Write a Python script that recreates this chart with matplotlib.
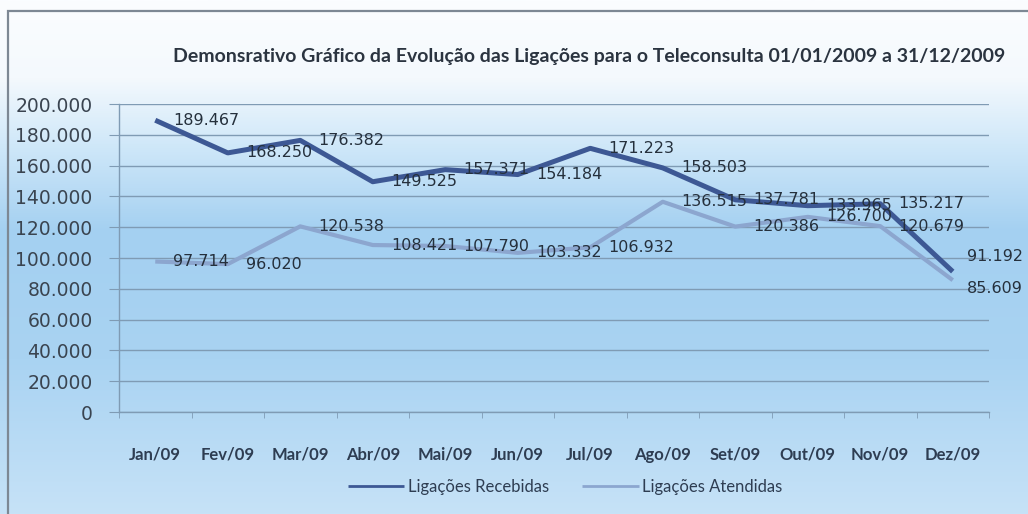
import numpy as np
import matplotlib
matplotlib.use('Agg')
import matplotlib.pyplot as plt
from matplotlib.patches import Rectangle
from matplotlib.colors import LinearSegmentedColormap

meses = ['Jan/09', 'Fev/09', 'Mar/09', 'Abr/09', 'Mai/09', 'Jun/09',
         'Jul/09', 'Ago/09', 'Set/09', 'Out/09', 'Nov/09', 'Dez/09']
recebidas = [189467, 168250, 176382, 149525, 157371, 154184,
             171223, 158503, 137781, 133965, 135217, 91192]
atendidas = [97714, 96020, 120538, 108421, 107790, 103332,
             106932, 136515, 120386, 126700, 120679, 85609]
yticks = [0, 20000, 40000, 60000, 80000, 100000, 120000, 140000, 160000, 180000, 200000]

titulo = 'Demonsrativo Gráfico da Evolução das Ligações para o Teleconsulta 01/01/2009 a 31/12/2009'

def fmt(v):
    return '{:,}'.format(v).replace(',', '.')

fig = plt.figure(figsize=(10.28, 5.14), dpi=100)

# background gradient (white on top, blue in the middle, lighter at the bottom)
bg = fig.add_axes([0, 0, 1, 1], zorder=-10)
cmap = LinearSegmentedColormap.from_list('bg', [
    (0.0, '#c6e2f7'), (0.3, '#a9d3f2'), (0.55, '#a4d0f1'),
    (0.72, '#d0e8f9'), (0.85, '#f4f9fd'), (1.0, '#fbfdff')])
grad = np.linspace(0, 1, 256).reshape(-1, 1)
bg.imshow(grad, aspect='auto', cmap=cmap, origin='lower', extent=[0, 1, 0, 1])
bg.set_xlim(0, 1)
bg.set_ylim(0, 1)
bg.axis('off')
bg.add_patch(Rectangle((8/1028, -0.01), 1.02 - 8/1028, 1 - 11/514 + 0.01,
                       fill=False, ec='#7d8894', lw=1.6))

ax = fig.add_axes([119/1028, 1 - 412/514, 870/1028, 308/514])
ax.patch.set_alpha(0)
x = np.arange(len(meses))

ax.plot(x, atendidas, color='#8ca6cf', lw=3.0, solid_capstyle='butt', label='Ligações Atendidas', zorder=3)
ax.plot(x, recebidas, color='#3d5894', lw=3.6, solid_capstyle='butt', label='Ligações Recebidas', zorder=4)

lab = dict(fontsize=11.5, color='#25303c', ha='left', va='center', zorder=5,
           textcoords='offset points', family='DejaVu Sans')
# last point labels are nudged apart (they sit close together)
off_rec = [(13, 0)] * 11 + [(10, 11)]
off_ate = [(13, 0)] * 11 + [(10, -6)]
for xi, v, o in zip(x, recebidas, off_rec):
    ax.annotate(fmt(v), (xi, v), xytext=o, **lab)
for xi, v, o in zip(x, atendidas, off_ate):
    ax.annotate(fmt(v), (xi, v), xytext=o, **lab)

ax.set_xlim(-0.5, len(meses) - 0.5)
ax.set_ylim(0, 200000)
ax.set_yticks(yticks)
ax.set_yticklabels([fmt(v) for v in yticks], fontsize=13.5, color='#3a4450', family='DejaVu Sans')
ax.grid(axis='y', color='#7f9bb4', lw=1)
ax.set_axisbelow(True)

ax.set_xticks(x)
ax.set_xticklabels(meses, fontsize=12, fontweight='bold', color='#2e3d52', family='Lato')
ax.set_xticks(np.arange(-0.5, len(meses)), minor=True)
ax.tick_params(axis='x', which='major', length=0, pad=25)
ax.tick_params(axis='x', which='minor', length=4, color='#7f9bb4', direction='out')
ax.tick_params(axis='y', length=7, color='#7f9bb4', pad=12)

for s in ['top', 'right']:
    ax.spines[s].set_visible(False)
for s in ['left', 'bottom']:
    ax.spines[s].set_color('#7f9bb4')
    ax.spines[s].set_linewidth(1)

fig.text(589/1028, 1 - 56/514, titulo, ha='center', va='center', fontsize=14,
         fontweight='bold', color='#2b3440', family='Lato')

h, l = ax.get_legend_handles_labels()
leg = fig.legend(h[::-1], l[::-1], loc='center', bbox_to_anchor=(565/1028, 1 - 487/514),
                 ncol=2, frameon=False, handlelength=3.4, columnspacing=2.0,
                 handletextpad=0.2, prop={'family': 'Lato', 'size': 12})
for t in leg.get_texts():
    t.set_color('#2e3d52')
for ln in leg.get_lines():
    ln.set_linewidth(2)

fig.savefig('out.png', dpi=100)
